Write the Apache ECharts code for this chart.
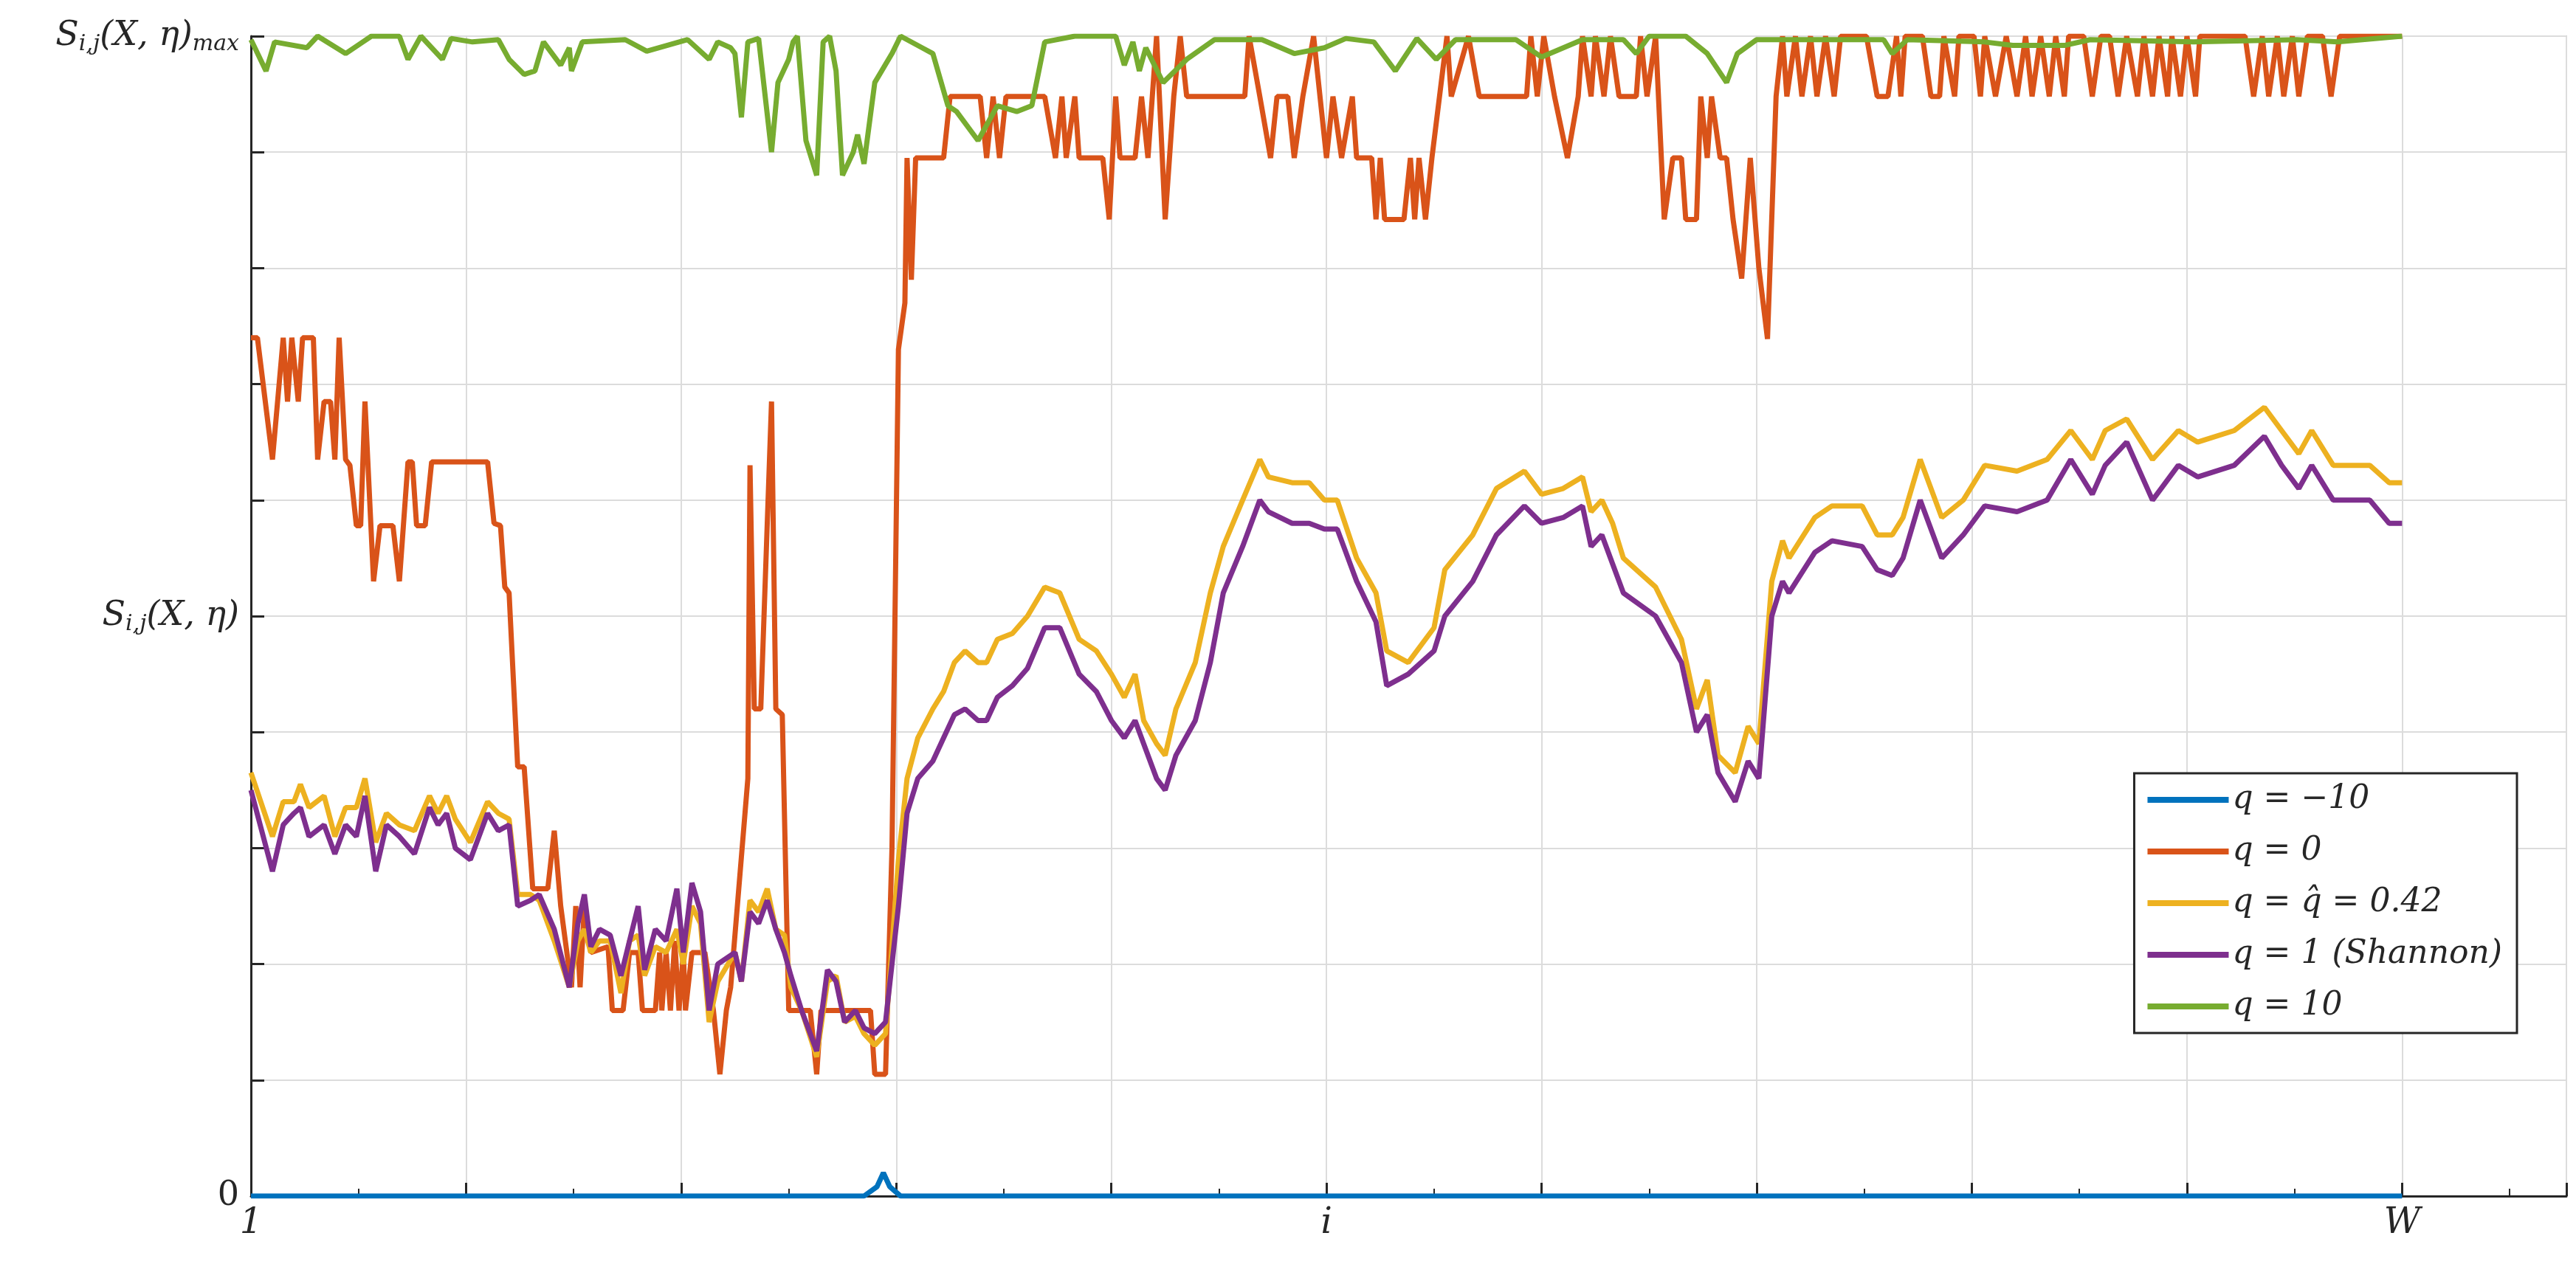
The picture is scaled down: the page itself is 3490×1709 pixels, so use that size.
<!DOCTYPE html>
<html><head><meta charset="utf-8">
<script src="https://cdn.jsdelivr.net/npm/echarts@6/dist/echarts.min.js"></script>
<style>html,body{margin:0;padding:0;background:#fff}#c{width:3490px;height:1709px}</style>
</head><body><div id="c"></div>
<script>
const seriesNames = ['q = −10','q = 0','q = q̂ = 0.42','q = 1 (Shannon)','q = 10'];
const xTickLabels = {0:'1',5:'i',10:'W'};
const blueData = [[0,0],[2.85,0],[2.91,0.08],[2.94,0.2],[2.97,0.08],[3.02,0],[10,0]];
const redData = [[0,7.4],[0.03,7.4],[0.1,6.35],[0.15,7.4],[0.17,6.85],[0.19,7.4],[0.22,6.85],[0.24,7.4],[0.29,7.4],[0.31,6.35],[0.34,6.85],[0.37,6.85],[0.39,6.35],[0.41,7.4],[0.44,6.35],[0.46,6.3],[0.49,5.78],[0.51,5.78],[0.53,6.85],[0.57,5.3],[0.6,5.78],[0.66,5.78],[0.69,5.3],[0.73,6.33],[0.75,6.33],[0.77,5.78],[0.81,5.78],[0.84,6.33],[1.1,6.33],[1.13,5.8],[1.16,5.78],[1.18,5.25],[1.2,5.2],[1.24,3.7],[1.27,3.7],[1.31,2.65],[1.38,2.65],[1.41,3.15],[1.44,2.5],[1.49,1.8],[1.51,2.5],[1.53,1.8],[1.55,2.5],[1.58,2.1],[1.66,2.15],[1.68,1.6],[1.73,1.6],[1.76,2.1],[1.8,2.1],[1.82,1.6],[1.88,1.6],[1.9,2.1],[1.91,1.6],[1.93,2.1],[1.95,1.6],[1.97,2.2],[1.99,1.6],[2.01,2.1],[2.02,1.6],[2.05,2.1],[2.11,2.1],[2.15,1.6],[2.18,1.05],[2.21,1.6],[2.23,1.8],[2.31,3.6],[2.32,6.3],[2.34,4.2],[2.37,4.2],[2.42,6.85],[2.44,4.2],[2.47,4.15],[2.5,1.6],[2.6,1.6],[2.63,1.05],[2.65,1.6],[2.88,1.6],[2.9,1.05],[2.95,1.05],[2.98,3.0],[3.01,7.3],[3.04,7.7],[3.05,8.95],[3.07,7.9],[3.09,8.95],[3.22,8.95],[3.25,9.48],[3.39,9.48],[3.42,8.95],[3.45,9.48],[3.48,8.95],[3.51,9.48],[3.69,9.48],[3.74,8.95],[3.77,9.48],[3.79,8.95],[3.83,9.48],[3.85,8.95],[3.96,8.95],[3.99,8.42],[4.02,9.48],[4.04,8.95],[4.11,8.95],[4.14,9.48],[4.17,8.95],[4.21,10],[4.25,8.42],[4.29,9.48],[4.32,10],[4.35,9.48],[4.62,9.48],[4.64,10],[4.69,9.48],[4.74,8.95],[4.77,9.48],[4.82,9.48],[4.85,8.95],[4.89,9.48],[4.94,10],[5.0,8.95],[5.03,9.48],[5.07,8.95],[5.12,9.48],[5.14,8.95],[5.21,8.95],[5.23,8.42],[5.25,8.95],[5.27,8.42],[5.36,8.42],[5.39,8.95],[5.41,8.42],[5.43,8.95],[5.46,8.42],[5.49,8.95],[5.56,10],[5.58,9.48],[5.66,10],[5.71,9.48],[5.93,9.48],[5.95,10],[5.98,9.48],[6.01,10],[6.06,9.48],[6.12,8.95],[6.17,9.48],[6.19,10],[6.23,9.48],[6.25,10],[6.29,9.48],[6.32,10],[6.36,9.48],[6.44,9.48],[6.46,10],[6.49,9.48],[6.53,10],[6.57,8.42],[6.61,8.95],[6.65,8.95],[6.67,8.42],[6.72,8.42],[6.74,9.48],[6.77,8.95],[6.79,9.48],[6.83,8.95],[6.86,8.95],[6.89,8.42],[6.93,7.91],[6.97,8.95],[7.01,8.0],[7.05,7.39],[7.09,9.48],[7.12,10],[7.14,9.48],[7.18,10],[7.21,9.48],[7.25,10],[7.28,9.48],[7.32,10],[7.36,9.48],[7.39,10],[7.51,10],[7.56,9.48],[7.61,9.48],[7.65,10],[7.67,9.48],[7.69,10],[7.77,10],[7.81,9.48],[7.85,9.48],[7.87,10],[7.92,9.48],[7.94,10],[8.01,10],[8.04,9.48],[8.06,10],[8.11,9.48],[8.16,10],[8.21,9.48],[8.25,10],[8.28,9.48],[8.32,10],[8.36,9.48],[8.39,10],[8.43,9.48],[8.45,10],[8.52,10],[8.56,9.48],[8.6,10],[8.64,10],[8.68,9.48],[8.72,10],[8.77,9.48],[8.8,10],[8.84,9.48],[8.87,10],[8.91,9.48],[8.93,10],[8.97,9.48],[9.0,10],[9.04,9.48],[9.06,10],[9.27,10],[9.31,9.48],[9.35,10],[9.38,9.48],[9.42,10],[9.45,9.48],[9.49,10],[9.52,9.48],[9.56,10],[9.63,10],[9.67,9.48],[9.71,10],[10,10]];
const yellowData = [[0,3.65],[0.1,3.1],[0.15,3.4],[0.2,3.4],[0.23,3.55],[0.27,3.35],[0.34,3.45],[0.39,3.1],[0.44,3.35],[0.49,3.35],[0.53,3.6],[0.58,3.05],[0.63,3.3],[0.69,3.2],[0.76,3.15],[0.83,3.45],[0.87,3.3],[0.91,3.45],[0.95,3.25],[1.02,3.05],[1.1,3.4],[1.15,3.3],[1.2,3.25],[1.24,2.6],[1.3,2.6],[1.34,2.55],[1.41,2.2],[1.48,1.8],[1.52,2.2],[1.55,2.3],[1.58,2.1],[1.62,2.2],[1.67,2.2],[1.72,1.75],[1.76,2.2],[1.8,2.25],[1.83,1.9],[1.88,2.15],[1.93,2.1],[1.98,2.3],[2.01,2.0],[2.05,2.5],[2.09,2.35],[2.13,1.5],[2.17,1.85],[2.25,2.1],[2.28,1.85],[2.32,2.55],[2.36,2.45],[2.4,2.65],[2.44,2.3],[2.48,2.25],[2.51,1.8],[2.56,1.6],[2.63,1.2],[2.68,1.85],[2.72,1.9],[2.76,1.5],[2.81,1.55],[2.85,1.4],[2.9,1.3],[2.95,1.4],[3.01,2.9],[3.05,3.6],[3.1,3.95],[3.17,4.2],[3.22,4.35],[3.27,4.6],[3.32,4.7],[3.38,4.6],[3.42,4.6],[3.47,4.8],[3.54,4.85],[3.61,5.0],[3.69,5.25],[3.76,5.2],[3.85,4.8],[3.93,4.7],[4.0,4.5],[4.06,4.3],[4.11,4.5],[4.15,4.1],[4.21,3.9],[4.25,3.8],[4.3,4.2],[4.39,4.6],[4.46,5.2],[4.52,5.6],[4.61,6.0],[4.69,6.35],[4.73,6.2],[4.84,6.15],[4.92,6.15],[4.99,6.0],[5.05,6.0],[5.14,5.5],[5.23,5.2],[5.28,4.7],[5.38,4.6],[5.5,4.9],[5.55,5.4],[5.68,5.7],[5.79,6.1],[5.92,6.25],[6.0,6.05],[6.1,6.1],[6.19,6.2],[6.23,5.9],[6.28,6.0],[6.33,5.8],[6.38,5.5],[6.53,5.25],[6.65,4.8],[6.72,4.2],[6.77,4.45],[6.82,3.8],[6.9,3.65],[6.96,4.05],[7.01,3.9],[7.07,5.3],[7.12,5.65],[7.15,5.5],[7.27,5.85],[7.35,5.95],[7.49,5.95],[7.56,5.7],[7.63,5.7],[7.68,5.85],[7.76,6.35],[7.86,5.85],[7.96,6.0],[8.06,6.3],[8.21,6.25],[8.35,6.35],[8.46,6.6],[8.56,6.35],[8.62,6.6],[8.72,6.7],[8.84,6.35],[8.96,6.6],[9.05,6.5],[9.22,6.6],[9.36,6.8],[9.44,6.6],[9.52,6.4],[9.58,6.6],[9.68,6.3],[9.85,6.3],[9.94,6.15],[10,6.15]];
const purpleData = [[0,3.5],[0.1,2.8],[0.15,3.2],[0.2,3.3],[0.23,3.35],[0.27,3.1],[0.34,3.2],[0.39,2.95],[0.44,3.2],[0.49,3.1],[0.53,3.45],[0.58,2.8],[0.63,3.2],[0.69,3.1],[0.76,2.95],[0.83,3.35],[0.87,3.2],[0.91,3.3],[0.95,3.0],[1.02,2.9],[1.1,3.3],[1.15,3.15],[1.2,3.2],[1.24,2.5],[1.3,2.55],[1.34,2.6],[1.41,2.3],[1.48,1.8],[1.52,2.35],[1.55,2.6],[1.58,2.15],[1.62,2.3],[1.67,2.25],[1.72,1.9],[1.76,2.2],[1.8,2.5],[1.83,1.95],[1.88,2.3],[1.93,2.2],[1.98,2.65],[2.01,2.1],[2.05,2.7],[2.09,2.45],[2.13,1.6],[2.17,2.0],[2.25,2.1],[2.28,1.85],[2.32,2.45],[2.36,2.35],[2.4,2.55],[2.44,2.3],[2.48,2.1],[2.51,1.9],[2.56,1.6],[2.63,1.25],[2.68,1.95],[2.72,1.85],[2.76,1.5],[2.81,1.6],[2.85,1.45],[2.9,1.4],[2.95,1.5],[3.01,2.5],[3.05,3.3],[3.1,3.6],[3.17,3.75],[3.22,3.95],[3.27,4.15],[3.32,4.2],[3.38,4.1],[3.42,4.1],[3.47,4.3],[3.54,4.4],[3.61,4.55],[3.69,4.9],[3.76,4.9],[3.85,4.5],[3.93,4.35],[4.0,4.1],[4.06,3.95],[4.11,4.1],[4.15,3.9],[4.21,3.6],[4.25,3.5],[4.3,3.8],[4.39,4.1],[4.46,4.6],[4.52,5.2],[4.61,5.6],[4.69,6.0],[4.73,5.9],[4.84,5.8],[4.92,5.8],[4.99,5.75],[5.05,5.75],[5.14,5.3],[5.23,4.95],[5.28,4.4],[5.38,4.5],[5.5,4.7],[5.55,5.0],[5.68,5.3],[5.79,5.7],[5.92,5.95],[6.0,5.8],[6.1,5.85],[6.19,5.95],[6.23,5.6],[6.28,5.7],[6.33,5.45],[6.38,5.2],[6.53,5.0],[6.65,4.6],[6.72,4.0],[6.77,4.15],[6.82,3.65],[6.9,3.4],[6.96,3.75],[7.01,3.6],[7.07,5.0],[7.12,5.3],[7.15,5.2],[7.27,5.55],[7.35,5.65],[7.49,5.6],[7.56,5.4],[7.63,5.35],[7.68,5.5],[7.76,6.0],[7.86,5.5],[7.96,5.7],[8.06,5.95],[8.21,5.9],[8.35,6.0],[8.46,6.35],[8.56,6.05],[8.62,6.3],[8.72,6.5],[8.84,6.0],[8.96,6.3],[9.05,6.2],[9.22,6.3],[9.36,6.55],[9.44,6.3],[9.52,6.1],[9.58,6.3],[9.68,6.0],[9.85,6.0],[9.94,5.8],[10,5.8]];
const greenData = [[0,9.97],[0.07,9.7],[0.11,9.95],[0.26,9.9],[0.31,10],[0.44,9.85],[0.52,9.95],[0.56,10],[0.69,10],[0.73,9.8],[0.79,10],[0.89,9.8],[0.93,9.98],[1.03,9.95],[1.15,9.97],[1.2,9.8],[1.27,9.67],[1.32,9.7],[1.36,9.95],[1.44,9.75],[1.48,9.9],[1.49,9.7],[1.54,9.95],[1.74,9.97],[1.84,9.87],[2.03,9.97],[2.13,9.8],[2.17,9.95],[2.23,9.9],[2.25,9.85],[2.28,9.3],[2.31,9.95],[2.36,9.98],[2.42,9.0],[2.45,9.6],[2.5,9.8],[2.52,9.95],[2.54,10],[2.58,9.1],[2.63,8.8],[2.66,9.95],[2.69,10],[2.72,9.7],[2.75,8.8],[2.8,9.0],[2.82,9.15],[2.85,8.9],[2.9,9.6],[2.98,9.85],[3.02,10],[3.12,9.9],[3.17,9.85],[3.24,9.4],[3.28,9.35],[3.38,9.1],[3.47,9.4],[3.56,9.35],[3.63,9.4],[3.69,9.95],[3.83,10],[4.02,10],[4.06,9.75],[4.1,9.95],[4.13,9.7],[4.16,9.9],[4.24,9.6],[4.35,9.8],[4.48,9.97],[4.7,9.97],[4.85,9.85],[4.99,9.9],[5.09,9.98],[5.22,9.95],[5.32,9.7],[5.42,9.98],[5.51,9.8],[5.6,9.97],[5.88,9.97],[6.0,9.82],[6.19,9.97],[6.38,9.97],[6.44,9.85],[6.5,10],[6.67,10],[6.77,9.85],[6.86,9.6],[6.91,9.85],[7.0,9.97],[7.59,9.97],[7.63,9.85],[7.7,9.97],[8.06,9.95],[8.19,9.92],[8.43,9.92],[8.55,9.97],[9.03,9.95],[9.51,9.97],[9.7,9.95],[10,10]];
const colors = ['#0072BD','#D95319','#EDB120','#7E2F8E','#77AC30'];
const allData = [blueData, redData, yellowData, purpleData, greenData];

const chart = echarts.init(document.getElementById('c'));
const serif = 'DejaVu Serif';
chart.setOption({
  animation:false,
  color: colors,
  grid:{left:340,right:13,top:49,bottom:88,containLabel:false,show:true,borderColor:'#cfcfcf',borderWidth:2},
  xAxis:{type:'value',min:0,max:10.764,interval:1,
    axisLine:{show:true,onZero:false,lineStyle:{color:'#262626',width:3}},
    axisTick:{show:true,inside:true,length:18,lineStyle:{color:'#262626',width:3}},
    minorTick:{show:true,splitNumber:2,length:10,lineStyle:{color:'#262626',width:2}},
    splitLine:{show:true,lineStyle:{color:'#dcdcdc',width:2}},
    axisLabel:{fontFamily:serif,fontStyle:'italic',fontSize:48,color:'#262626',margin:14,
      formatter:v=>{const k=Math.round(v);return (Math.abs(v-k)<1e-6 && xTickLabels[k]!==undefined)?xTickLabels[k]:'';}}
  },
  yAxis:{type:'value',min:0,max:10,interval:1,
    axisLine:{show:true,lineStyle:{color:'#262626',width:3}},
    axisTick:{show:true,inside:true,length:18,lineStyle:{color:'#262626',width:3}},
    splitLine:{show:true,lineStyle:{color:'#dcdcdc',width:2}},
    axisLabel:{fontFamily:serif,fontSize:46,color:'#262626',margin:16,
      formatter:v=>{if(v===0)return '{n|0}';if(v===5)return '{s|S}{sub|i,j}{s|(X, η)}';if(v===10)return '{s|S}{sub|i,j}{s|(X, η)}{sub|max}';return '';},
      rich:{n:{fontFamily:serif,fontSize:46,color:'#262626'},
        s:{fontFamily:serif,fontStyle:'italic',fontSize:46,color:'#262626'},
        sub:{fontFamily:serif,fontStyle:'italic',fontSize:30,color:'#262626',padding:[22,0,0,0]}}}
  },
  legend:{orient:'vertical',right:80,top:1048,backgroundColor:'#fff',borderColor:'#262626',borderWidth:3,
    padding:[14,20,14,18],itemWidth:110,itemHeight:8,itemGap:26,
    icon:'rect',
    textStyle:{fontFamily:serif,fontStyle:'italic',fontSize:44,color:'#262626'}},
  series: allData.map((d,i)=>({name:seriesNames[i],type:'line',data:d,showSymbol:false,symbol:'none',
    lineStyle:{width:7,color:colors[i]},z:i===0?10:2+i}))
});
</script></body></html>
